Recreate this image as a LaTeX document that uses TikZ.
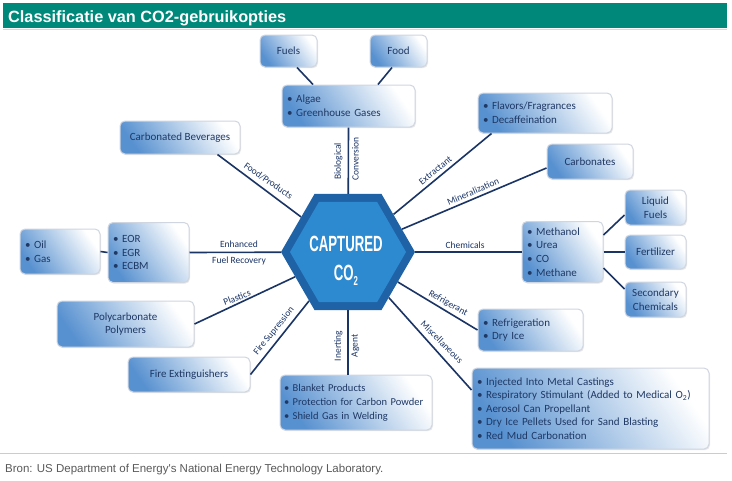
\documentclass[tikz,border=0pt]{standalone}
\usepackage{fontspec}
\setmainfont{Carlito}
\newfontfamily\arialfont{Liberation Sans}
\usetikzlibrary{shapes.geometric,shadows}
\definecolor{teal1}{RGB}{0,137,123}
\definecolor{navy}{RGB}{26,52,102}
\definecolor{txtnavy}{RGB}{31,56,100}
\definecolor{boxblue}{RGB}{88,145,208}
\definecolor{boxedge}{RGB}{208,214,224}
\definecolor{hexdark}{RGB}{31,98,165}
\definecolor{hexlight}{RGB}{45,138,208}
\definecolor{foot}{RGB}{90,90,90}
\begin{document}
\begin{tikzpicture}[x=1pt,y=-1pt,
 box/.style={rounded corners=5pt, draw=boxedge, line width=1pt,
   bottom color=boxblue, top color=white, shading angle=-55,
   text=txtnavy, font=\fontsize{11}{13.6}\selectfont, inner sep=0pt,
   drop shadow={shadow xshift=1pt, shadow yshift=-1.2pt, opacity=0.18}},
 cbox/.style={box, align=center},
 lbox/.style={box, align=left, inner xsep=5pt},
 conn/.style={draw=navy, line width=1.6pt},
 lab/.style={text=navy, font=\fontsize{9.5}{11}\selectfont, inner sep=0pt},
 hexfont/.style={text=white, inner sep=0pt, font=\arialfont\bfseries\fontsize{22}{22}\selectfont},
]
\useasboundingbox (0,0) rectangle (732,480);
\fill[white] (0,0) rectangle (732,480);
% title bar
\fill[teal1] (3,3) rectangle (727,28);
\draw[gray!30, line width=1pt] (3,29.5) -- (727,29.5);
\node[anchor=base west, text=white, inner sep=0pt, font=\arialfont\bfseries\fontsize{16.3}{18}\selectfont] (title) at (8,22) {Classificatie van CO2-gebruikopties};
% footer
\draw[gray!40, line width=1pt] (0,453) -- (727,453);
\node[anchor=base west, text=foot, inner sep=0pt, font=\arialfont\fontsize{11.5}{13}\selectfont] (footer) at (5,472) {Bron: US Department of Energy's National Energy Technology Laboratory.};

% boxes
\node[cbox, minimum width=57pt, minimum height=32pt] (fuels) at (288.5,51) {Fuels};
\node[cbox, minimum width=57pt, minimum height=32pt] (food) at (398.5,51) {Food};
\node[lbox, text width=123pt, minimum height=42pt] (algae) at (348.5,106) {\textbullet\ Algae\\\textbullet\ Greenhouse Gases};
\node[cbox, minimum width=120pt, minimum height=33pt] (carbbev) at (180,137.5) {Carbonated Beverages};
\node[lbox, text width=124pt, minimum height=40pt] (flavors) at (545,113) {\textbullet\ Flavors/Fragrances\\\textbullet\ Decaffeination};
\node[cbox, minimum width=86pt, minimum height=35pt] (carbonates) at (590,161.5) {Carbonates};
\node[lbox, text width=71pt, minimum height=61pt] (methanol) at (562.5,252) {\textbullet\ Methanol\\\textbullet\ Urea\\\textbullet\ CO\\\textbullet\ Methane};
\node[cbox, minimum width=61pt, minimum height=35pt] (liquid) at (655.5,207.5) {Liquid\\Fuels};
\node[cbox, minimum width=61pt, minimum height=34pt] (fert) at (655.5,252) {Fertilizer};
\node[cbox, minimum width=61pt, minimum height=35pt] (secchem) at (655.5,299.5) {Secondary\\Chemicals};
\node[lbox, text width=95pt, minimum height=42pt] (refrig) at (530.5,330) {\textbullet\ Refrigeration\\\textbullet\ Dry Ice};
\node[lbox, text width=227pt, minimum height=81pt] (misc) at (590.5,408.5) {\textbullet\ Injected Into Metal Castings\\\textbullet\ Respiratory Stimulant (Added to Medical O\textsubscript{2})\\\textbullet\ Aerosol Can Propellant\\\textbullet\ Dry Ice Pellets Used for Sand Blasting\\\textbullet\ Red Mud Carbonation};
\node[lbox, text width=144pt, inner xsep=4pt, minimum height=55pt, font=\fontsize{10.5}{13.8}\selectfont] (blanket) at (356,402.5) {\textbullet\ Blanket Products\\\textbullet\ Protection for Carbon Powder\\\textbullet\ Shield Gas in Welding};
\node[cbox, minimum width=122pt, minimum height=35pt] (fireext) at (189,374.5) {Fire Extinguishers};
\node[cbox, minimum width=137pt, minimum height=46pt] (poly) at (125.5,324) {Polycarbonate\\Polymers};
\node[lbox, text width=71pt, minimum height=60pt] (eor) at (148.5,252.5) {\textbullet\ EOR\\\textbullet\ EGR\\\textbullet\ ECBM};
\node[lbox, text width=70pt, minimum height=45pt] (oilgas) at (60,251.5) {\textbullet\ Oil\\\textbullet\ Gas};

% hexagon
\node[regular polygon, regular polygon sides=6, minimum size=134pt, inner sep=0pt, fill=hexdark] (hex) at (348,252) {};
\node[regular polygon, regular polygon sides=6, minimum size=116pt, inner sep=0pt, fill=hexlight] (hexin) at (348,252) {};
\node[hexfont, anchor=base] (capt) at (346,251) {\scalebox{0.6}[1]{CAPTURED}};
\node[hexfont, anchor=base] (co2) at (346,280) {\scalebox{0.6}[1]{CO}\raisebox{-5pt}{\scalebox{0.6}[1]{\fontsize{13}{13}\selectfont 2}}};

% connectors
\draw[conn] (hex) -- (algae.south);
\draw[conn] ([xshift=8.5pt]fuels.south) -- ([xshift=-35.5pt]algae.north);
\draw[conn] ([xshift=-6.5pt]food.south) -- ([xshift=29.5pt]algae.north);
\draw[conn] (hex) -- ([xshift=-23pt]carbbev.south east);
\draw[conn] (hex) -- ([xshift=14pt]flavors.south west);
\draw[conn] (hex) -- ([yshift=-6.5pt]carbonates.west);
\draw[conn] (hex) -- (methanol.west);
\draw[conn] ([yshift=17pt]methanol.east) -- ([yshift=-7.5pt]liquid.west);
\draw[conn] (methanol.east) -- (fert.west);
\draw[conn] ([yshift=-16pt]methanol.east) -- ([yshift=10.5pt]secchem.west);
\draw[conn] (hex) -- (refrig.west);
\draw[conn] (hex) -- ([yshift=18.5pt]misc.west);
\draw[conn] (hex) -- ([xshift=-8pt]blanket.north);
\draw[conn] (hex) -- (fireext.east);
\draw[conn] (hex) -- (poly.east);
\draw[conn] (hex) -- (eor.east);
\draw[conn] (oilgas.east) -- (eor.west);

% connector labels
\node[lab, rotate=90] (lbio) at (338.5,161.5) {Biological};
\node[lab, rotate=90] (lconv) at (355.5,159) {Conversion};
\node[lab, rotate=-35] (lfood) at (268.5,181) {Food/Products};
\node[lab, rotate=39] (lextr) at (435.5,170.5) {Extractant};
\node[lab, rotate=23] (lmin) at (473,191.5) {Mineralization};
\node[lab] (lchem) at (465,245) {Chemicals};
\node[lab, rotate=-29] (lref) at (448,303.5) {Refrigerant};
\node[lab, rotate=-45] (lmisc) at (442,342) {Miscellaneous};
\node[lab, rotate=90] (liner) at (338.5,346) {Inerting};
\node[lab, rotate=90] (lagent) at (355.5,346) {Agent};
\node[lab, rotate=51] (lfire) at (274,331) {Fire Supression};
\node[lab, rotate=21] (lplast) at (237,297.5) {Plastics};
\node[lab] (lenh) at (239,244) {Enhanced};
\node[lab] (lfuel) at (239,261) {Fuel Recovery};
\end{tikzpicture}
\end{document}
